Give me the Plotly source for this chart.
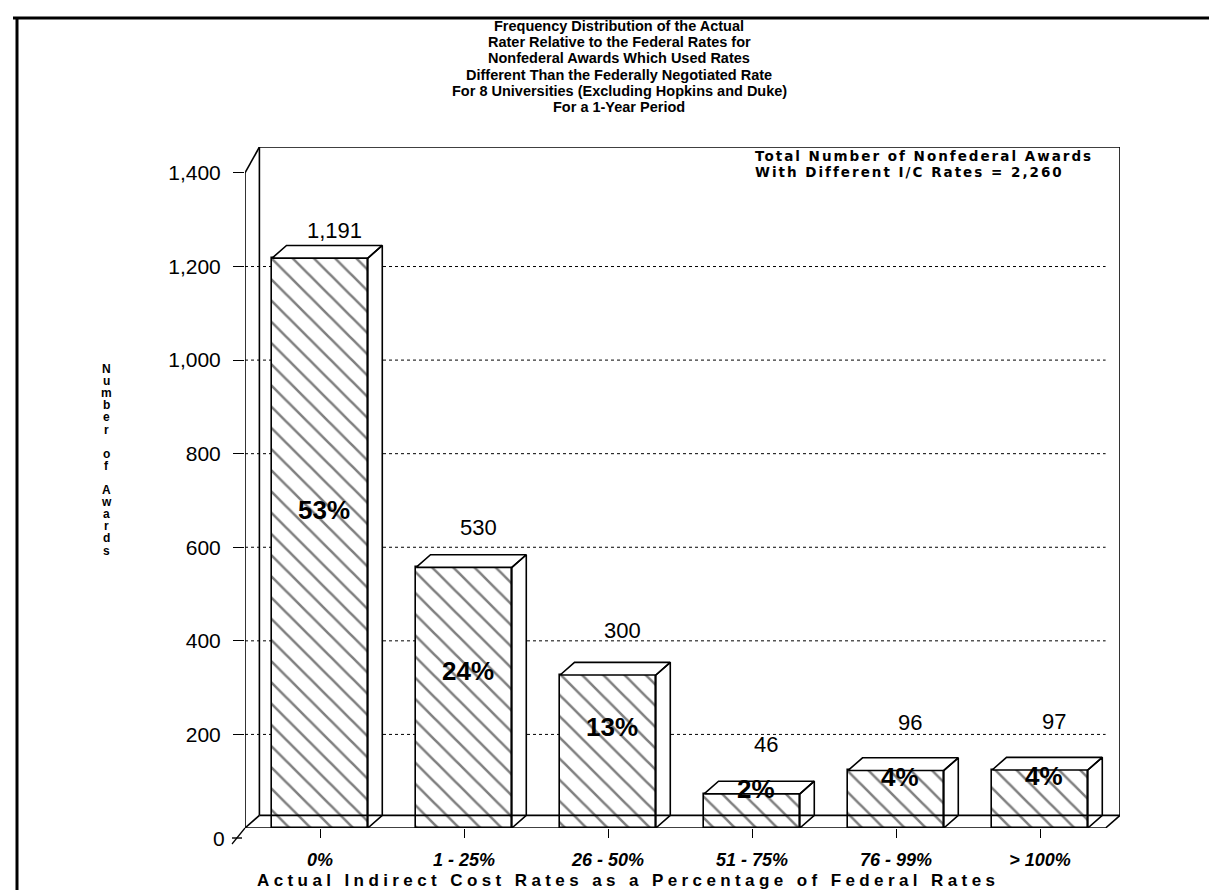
import plotly.graph_objects as go

# ---------------- data ----------------
categories = ["0%", "1 - 25%", "26 - 50%", "51 - 75%", "76 - 99%", "> 100%"]
awards = [1191, 530, 300, 46, 96, 97]
value_labels = ["1,191", "530", "300", "46", "96", "97"]
share_labels = ["53%", "24%", "13%", "2%", "4%", "4%"]
y_tick_values = [0, 200, 400, 600, 800, 1000, 1200, 1400]
y_tick_labels = ["0", "200", "400", "600", "800", "1,000", "1,200", "1,400"]
title_lines = [
    "Frequency Distribution of the Actual",
    "Rater Relative to the Federal Rates for",
    "Nonfederal Awards Which Used Rates",
    "Different Than the Federally Negotiated Rate",
    "For 8 Universities (Excluding Hopkins and Duke)",
    "For a 1-Year Period",
]
note_lines = ["Total Number of Nonfederal Awards", "With Different I/C Rates = 2,260"]
x_title = "Actual Indirect Cost Rates as a Percentage of Federal Rates"
y_title = "Number of Awards"

# ---------------- geometry / style ----------------
W, H = 1217, 890
PL, PR, PT, PB = 237, 1112, 139, 820          # plot-area pixel box
STEP = 144.0                                   # pixels per category
C0 = 312                                       # pixel centre of first category
PX_PER_UNIT = 0.4679
BAR_W = 0.665
DX = 0.10        # depth offset (category units)
DY = 27          # depth offset (value units)
X0 = (PL - C0) / STEP
X1 = (PR - C0) / STEP
Y0 = 0
Y1 = (PB - PT) / PX_PER_UNIT
FONT = "Liberation Sans"


def px(x):
    return (x - PL) / (PR - PL)


def py(y):
    return (PB - y) / (PB - PT)


xs = list(range(len(categories)))
tops = [v + DY for v in awards]     # front-face top (values read on the back wall)

fig = go.Figure()

# dotted grid lines on the back wall (no line at the top tick)
for v in y_tick_values[1:-1]:
    fig.add_shape(type="line", x0=X0, y0=v, x1=X1 - DX, y1=v, layer="below",
                  line=dict(color="black", width=1, dash="dot"))

# front faces (hatched)
fig.add_trace(go.Bar(
    x=xs, y=tops, width=BAR_W,
    marker=dict(color="white", line=dict(color="black", width=1.6),
                pattern=dict(shape="\\", fgcolor="black", bgcolor="white",
                             size=15, solidity=0.17)),
    hoverinfo="skip", showlegend=False,
))

# side and top faces
px_list, py_list = [], []
for i, t in zip(xs, tops):
    xl, xr = i - BAR_W / 2, i + BAR_W / 2
    px_list += [xr, xr, xr + DX, xr + DX, xr, None]
    py_list += [0, t, t + DY, DY, 0, None]
    px_list += [xl, xl + DX, xr + DX, xr, xl, None]
    py_list += [t, t + DY, t + DY, t, t, None]
fig.add_trace(go.Scatter(
    x=px_list, y=py_list, mode="lines", fill="toself", fillcolor="white",
    line=dict(color="black", width=1.6), hoverinfo="skip", showlegend=False,
))

# value labels above bars
for i, v, t, lab in zip(xs, awards, tops, value_labels):
    fig.add_annotation(x=i + DX, y=t + DY + 80 - 0.04 * v, text=lab, showarrow=False,
                       yanchor="middle",
                       font=dict(family=FONT, size=22, color="black"))
# share labels in bars
for i, v, lab in zip(xs, awards, share_labels):
    fig.add_annotation(x=i + 0.03, y=0.52 * v + 60, text=lab, showarrow=False,
                       font=dict(family=FONT, size=26, color="black", weight="bold"))

# walls / floor (frame)
line = dict(color="black", width=1.6)
fig.add_shape(type="line", x0=X0, y0=0, x1=X0, y1=1400, line=line, layer="above")
fig.add_shape(type="line", x0=X0 + DX, y0=DY, x1=X0 + DX, y1=Y1, line=line, layer="above")
fig.add_shape(type="line", x0=X0, y0=1400, x1=X0 + DX, y1=Y1, line=line, layer="above")
fig.add_shape(type="line", x0=X0 + DX, y0=Y1, x1=X1, y1=Y1, line=line, layer="above")
fig.add_shape(type="line", x0=X1, y0=Y1, x1=X1, y1=DY, line=line, layer="above")
fig.add_shape(type="line", x0=X0 + DX, y0=DY, x1=X1, y1=DY, line=line, layer="above")
fig.add_shape(type="line", x0=X0, y0=0, x1=X1 - DX, y1=0, line=line, layer="above")
fig.add_shape(type="line", x0=X1 - DX, y0=0, x1=X1, y1=DY, line=line, layer="above")
fig.add_shape(type="line", x0=X0, y0=0, x1=X0 + DX, y1=DY, line=line, layer="above")
# front-left corner diagonal below the floor, and the "0" tick that sits on it
fig.add_shape(type="line", xref="paper", yref="paper", x0=px(PL - 13), y0=py(PB + 16),
              x1=px(PL), y1=py(PB), line=dict(color="black", width=1.2))
fig.add_shape(type="line", xref="paper", yref="paper", x0=px(PL - 13), y0=py(PB + 10),
              x1=px(PL - 3), y1=py(PB + 10), line=dict(color="black", width=1.4))
fig.add_annotation(xref="paper", yref="paper", x=px(PL - 18), y=py(PB + 11),
                   xanchor="right", yanchor="middle", showarrow=False,
                   text=y_tick_labels[0],
                   font=dict(family=FONT, size=21, color="black"))

# page border (top and left)
fig.add_shape(type="line", xref="paper", yref="paper", x0=px(5), y0=py(10), x1=px(W), y1=py(10),
              line=dict(color="black", width=3))
fig.add_shape(type="line", xref="paper", yref="paper", x0=px(9), y0=py(9), x1=px(9), y1=py(H),
              line=dict(color="black", width=3))

# title (one annotation per line)
for k, t in enumerate(title_lines):
    fig.add_annotation(xref="paper", yref="paper", x=px(611), y=py(18 + 16.2 * k),
                       xanchor="center", yanchor="middle", showarrow=False, text=t,
                       font=dict(family=FONT, size=14.5, color="black", weight="bold"))
# note
for k, t in enumerate(note_lines):
    fig.add_annotation(xref="paper", yref="paper", x=px(745), y=py(148 + 16 * k),
                       xanchor="left", yanchor="middle", showarrow=False,
                       text='<span style="letter-spacing:2px">' + t + '</span>',
                       font=dict(family="DejaVu Sans", size=13.5, color="black",
                                 weight="bold"))
# y title (stacked letters)
for k, ch in enumerate(y_title):
    if ch != " ":
        fig.add_annotation(xref="paper", yref="paper", x=px(98), y=py(361 + 12.1 * k),
                           xanchor="center", yanchor="middle", showarrow=False, text=ch,
                           font=dict(family=FONT, size=12, color="black", weight="bold"))
# x title
fig.add_annotation(xref="paper", yref="paper", x=px(620), y=py(872), xanchor="center",
                   yanchor="middle", showarrow=False,
                   text='<span style="letter-spacing:4.4px">' + x_title + '</span>',
                   font=dict(family=FONT, size=17, color="black", weight="bold"))

fig.update_xaxes(range=[X0, X1], tickmode="array", tickvals=xs, ticktext=categories,
                 ticks="outside", ticklen=9, tickwidth=1.2, tickcolor="black",
                 showline=False, showgrid=False, zeroline=False,
                 ticklabelstandoff=6,
                 tickfont=dict(family=FONT, size=18, color="black", weight="bold",
                               style="italic"))
fig.update_yaxes(range=[Y0, Y1], tickmode="array", tickvals=y_tick_values[1:],
                 ticktext=y_tick_labels[1:], ticks="outside", ticklen=11, tickwidth=1.4,
                 tickcolor="black", showline=False, zeroline=False, showgrid=False,
                 ticklabelstandoff=8,
                 tickfont=dict(family=FONT, size=21, color="black"))

fig.update_layout(width=W, height=H, plot_bgcolor="white", paper_bgcolor="white",
                  margin=dict(l=PL, r=W - PR, t=PT, b=H - PB, autoexpand=False),
                  showlegend=False, bargap=0)

fig.write_html("out.html")
